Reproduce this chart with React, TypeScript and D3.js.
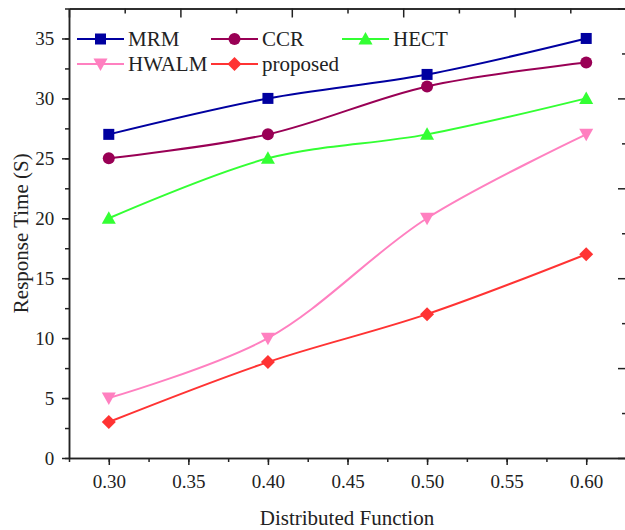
import React, { useEffect, useRef } from 'react';
import * as d3 from 'd3';

const xValues = [0.3, 0.4, 0.5, 0.6];
const seriesNames = ['MRM', 'CCR', 'HECT', 'HWALM', 'proposed'];
const mrm = [27, 30, 32, 35];
const ccr = [25, 27, 31, 33];
const hect = [20, 25, 27, 30];
const hwalm = [5, 10, 20, 27];
const proposed = [3, 8, 12, 17];
const xTicks = [0.3, 0.35, 0.4, 0.45, 0.5, 0.55, 0.6];
const yTicks = [0, 5, 10, 15, 20, 25, 30, 35];

const colors = ['#0000a0', '#990055', '#33ff33', '#ff80c0', '#ff3333'];
const symbols = ['square', 'circle', 'triangleUp', 'triangleDown', 'diamond'];

const W = 625;
const H = 530;
const FONT = "'Liberation Serif'";

const drawMarker = (g, kind, cx, cy, color) => {
  if (kind === 'square') {
    g.append('rect').attr('x', cx - 5.5).attr('y', cy - 5.5).attr('width', 11).attr('height', 11).attr('fill', color);
  } else if (kind === 'circle') {
    g.append('circle').attr('cx', cx).attr('cy', cy).attr('r', 6).attr('fill', color);
  } else if (kind === 'triangleUp') {
    g.append('path').attr('d', `M${cx},${cy - 7}L${cx + 7},${cy + 5.5}L${cx - 7},${cy + 5.5}Z`).attr('fill', color);
  } else if (kind === 'triangleDown') {
    g.append('path').attr('d', `M${cx},${cy + 7}L${cx + 7},${cy - 5.5}L${cx - 7},${cy - 5.5}Z`).attr('fill', color);
  } else {
    g.append('path').attr('d', `M${cx},${cy - 7}L${cx + 7},${cy}L${cx},${cy + 7}L${cx - 7},${cy}Z`).attr('fill', color);
  }
};

const App = () => {
  const ref = useRef(null);

  useEffect(() => {
    const svg = d3.select(ref.current);
    svg.selectAll('*').remove();

    const margin = { top: 8.5, right: -1, bottom: 72, left: 69 };
    const x = d3.scaleLinear().domain([0.275, 0.625]).range([margin.left, W - margin.right]);
    const y = d3.scaleLinear().domain([0, 37.5]).range([H - margin.bottom, margin.top]);
    const axisColor = '#222';

    // bottom axis
    const bottom = svg.append('g').attr('transform', `translate(0,${y(0)})`);
    bottom.call(d3.axisBottom(x).tickValues(d3.range(0.275, 0.626, 0.025)).tickSize(4).tickFormat(() => '').tickSizeOuter(0));
    bottom.append('g').call(
      d3.axisBottom(x).tickValues(xTicks).tickSize(7).tickSizeOuter(0).tickFormat(d3.format('.2f'))
    );
    bottom.selectAll('text').attr('dy', '1.05em');

    // left axis
    const left = svg.append('g').attr('transform', `translate(${margin.left},0)`);
    left.call(d3.axisLeft(y).tickValues(d3.range(0, 37.6, 2.5)).tickSize(4).tickFormat(() => '').tickSizeOuter(0));
    left.append('g').call(d3.axisLeft(y).tickValues(yTicks).tickSize(7).tickSizeOuter(0).tickFormat(d3.format('d')));
    left.selectAll('text').attr('dx', '-0.25em');

    // top and right frame axes with their own ticks
    const xTop = d3.scaleLinear().domain([0, 5]).range([margin.left, W - margin.right]);
    const yRight = d3.scaleLinear().domain([0, 5]).range([H - margin.bottom, margin.top]);
    const top = svg.append('g').attr('transform', `translate(0,${margin.top})`);
    top.call(d3.axisBottom(xTop).tickValues(d3.range(0.5, 5, 1)).tickSize(5).tickFormat(() => '').tickSizeOuter(0));
    top.append('g').call(d3.axisBottom(xTop).ticks(5).tickSize(9).tickFormat(() => '').tickSizeOuter(0));
    const right = svg.append('g').attr('transform', `translate(${W - margin.right},0)`);
    right.call(d3.axisLeft(yRight).tickValues(d3.range(0.5, 5, 1)).tickSize(4).tickFormat(() => '').tickSizeOuter(0));
    right.append('g').call(d3.axisLeft(yRight).ticks(5).tickSize(8).tickFormat(() => '').tickSizeOuter(0));

    svg.selectAll('.domain').attr('stroke', axisColor).attr('stroke-width', 1.5);
    svg.selectAll('.tick line').attr('stroke', axisColor).attr('stroke-width', 1.5);
    svg.selectAll('.tick text')
      .attr('fill', axisColor)
      .style('font-family', FONT)
      .style('font-size', '19px');

    // axis titles
    svg.append('text')
      .attr('x', (margin.left + W) / 2)
      .attr('y', 525)
      .attr('text-anchor', 'middle')
      .attr('fill', axisColor)
      .style('font-family', FONT)
      .style('font-size', '21px')
      .text('Distributed Function');
    svg.append('text')
      .attr('transform', `translate(28,${(y(0) + margin.top) / 2}) rotate(-90)`)
      .attr('text-anchor', 'middle')
      .attr('fill', axisColor)
      .style('font-family', FONT)
      .style('font-size', '21px')
      .text('Response Time (S)');

    // series
    const allSeries = [mrm, ccr, hect, hwalm, proposed];
    const line = d3.line()
      .x((d, i) => x(xValues[i]))
      .y(d => y(d))
      .curve(d3.curveCatmullRom.alpha(0.5));

    allSeries.forEach((vals, si) => {
      const g = svg.append('g');
      g.append('path')
        .datum(vals)
        .attr('fill', 'none')
        .attr('stroke', colors[si])
        .attr('stroke-width', 2)
        .attr('d', line);
      vals.forEach((v, i) => drawMarker(g, symbols[si], x(xValues[i]), y(v), colors[si]));
    });

    // legend
    const legendPos = [
      [77, 39], [211, 39], [342, 39],
      [77, 64], [211, 64],
    ];
    seriesNames.forEach((name, i) => {
      const [lx, ly] = legendPos[i];
      const g = svg.append('g');
      g.append('line')
        .attr('x1', lx).attr('x2', lx + 47)
        .attr('y1', ly).attr('y2', ly)
        .attr('stroke', colors[i]).attr('stroke-width', 2);
      drawMarker(g, symbols[i], lx + 23.5, ly, colors[i]);
      g.append('text')
        .attr('x', lx + 51)
        .attr('y', ly)
        .attr('dy', '0.35em')
        .attr('fill', axisColor)
        .style('font-family', FONT)
        .style('font-size', '21px')
        .text(name);
    });
  }, []);

  return (
    <svg
      ref={ref}
      width={W}
      height={H}
      style={{ position: 'absolute', left: 0, top: 0, background: '#fff' }}
    />
  );
};

export default App;
